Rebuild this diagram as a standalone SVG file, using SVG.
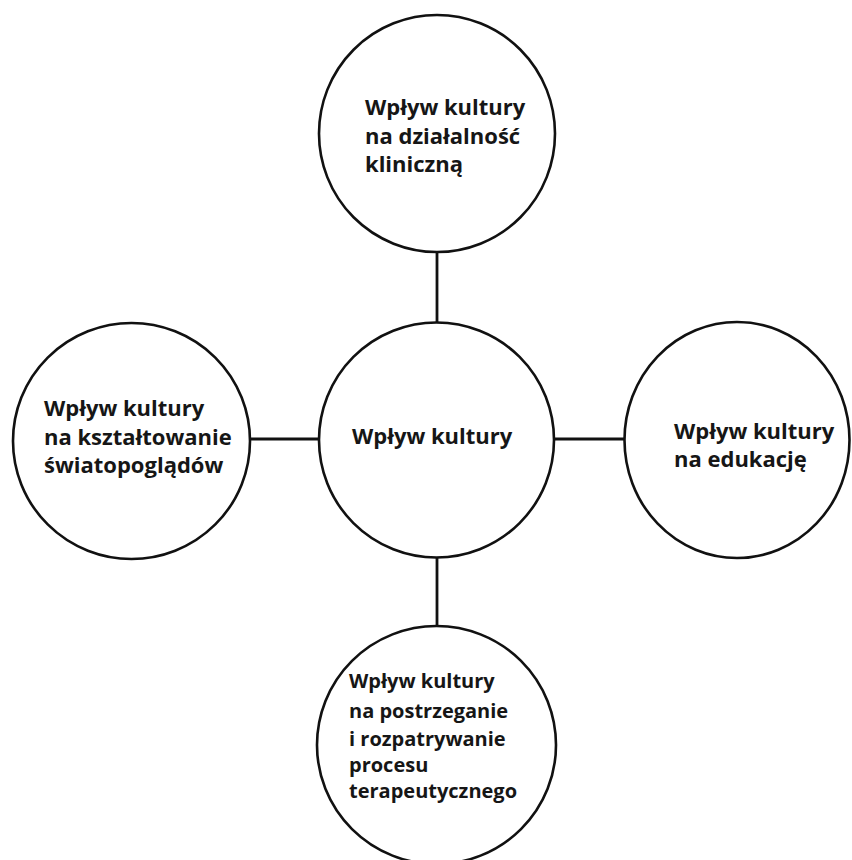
<svg xmlns="http://www.w3.org/2000/svg" width="852" height="860" viewBox="0 0 852 860">
  <style>
    .node { fill: #ffffff; stroke: #111111; stroke-width: 2.6; }
    .link { stroke: #111111; stroke-width: 2.8; fill: none; }
    .label { font-family: "Open Sans", "Noto Sans", "Liberation Sans", sans-serif; font-weight: bold; font-size: 22px; fill: #161616; }
    .small { font-size: 20px; }
  </style>
  <rect x="0" y="0" width="852" height="860" fill="#ffffff"/>

  <!-- connectors between the central hub and the four satellite topics -->
  <g id="connectors">
    <line class="link" x1="437" y1="252" x2="437" y2="322"/>
    <line class="link" x1="437" y1="557" x2="437" y2="626"/>
    <line class="link" x1="250" y1="439" x2="319" y2="439"/>
    <line class="link" x1="554" y1="439" x2="624" y2="439"/>
  </g>

  <g id="node-top">
    <ellipse class="node" cx="437" cy="133.5" rx="118" ry="118.5"/>
    <text class="label" x="365" y="115">Wpływ kultury</text>
    <text class="label" x="365" y="143.5">na działalność</text>
    <text class="label" x="365" y="172">kliniczną</text>
  </g>

  <g id="node-center">
    <ellipse class="node" cx="436.5" cy="440" rx="117.5" ry="117.5"/>
    <text class="label" x="352" y="444">Wpływ kultury</text>
  </g>

  <g id="node-left">
    <ellipse class="node" cx="131.5" cy="441" rx="118.5" ry="118"/>
    <text class="label" x="44" y="416">Wpływ kultury</text>
    <text class="label" x="44" y="445">na kształtowanie</text>
    <text class="label" x="44" y="473">światopoglądów</text>
  </g>

  <g id="node-right">
    <ellipse class="node" cx="737" cy="440" rx="112.5" ry="118"/>
    <text class="label" x="674" y="439">Wpływ kultury</text>
    <text class="label" x="674" y="467">na edukację</text>
  </g>

  <g id="node-bottom">
    <ellipse class="node" cx="436.5" cy="745" rx="119.5" ry="119"/>
    <text class="label small" x="349" y="688">Wpływ kultury</text>
    <text class="label small" x="349" y="718">na postrzeganie</text>
    <text class="label small" x="349" y="746">i rozpatrywanie</text>
    <text class="label small" x="349" y="772">procesu</text>
    <text class="label small" x="349" y="798">terapeutycznego</text>
  </g>
</svg>
